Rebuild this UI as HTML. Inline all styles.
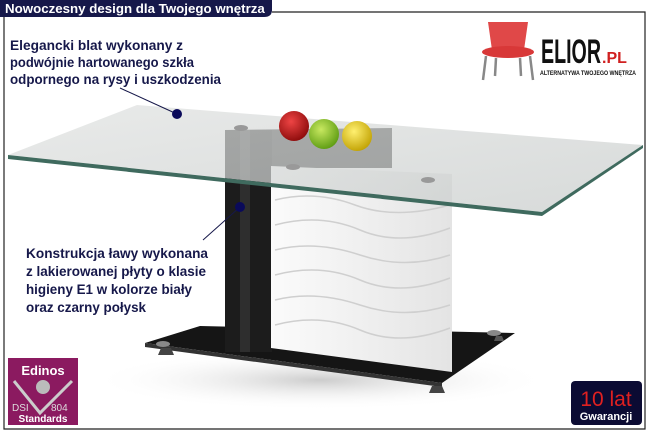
<!DOCTYPE html>
<html><head><meta charset="utf-8"><style>
html,body{margin:0;padding:0;background:#fff;width:650px;height:435px;overflow:hidden}
svg{display:block;font-family:"Liberation Sans",sans-serif}
</style></head><body>
<svg width="650" height="435" viewBox="0 0 650 435">
<defs>
<linearGradient id="gl" x1="0" y1="0" x2="1" y2="1"><stop offset="0" stop-color="#e0e2e1"/><stop offset="1" stop-color="#c8cccb"/></linearGradient>
<linearGradient id="wh" x1="0" y1="0" x2="1" y2="0"><stop offset="0" stop-color="#fbfbfb"/><stop offset="1" stop-color="#e4e4e4"/></linearGradient>
<radialGradient id="ra" cx=".4" cy=".35" r=".7"><stop offset="0" stop-color="#e44"/><stop offset="1" stop-color="#8a0a0a"/></radialGradient>
<radialGradient id="ga" cx=".4" cy=".35" r=".7"><stop offset="0" stop-color="#c8e860"/><stop offset="1" stop-color="#5a9a10"/></radialGradient>
<radialGradient id="ya" cx=".4" cy=".35" r=".7"><stop offset="0" stop-color="#fff070"/><stop offset="1" stop-color="#c0a000"/></radialGradient>
<radialGradient id="sh" cx=".5" cy=".5" r=".5"><stop offset="0" stop-color="#ccc"/><stop offset="1" stop-color="#fff" stop-opacity="0"/></radialGradient>
</defs>
<path d="M4,14 V429 H645 V12 H272" fill="none" stroke="#222" stroke-width="1.2"/>
<path d="M0,0 H272 V10 Q272,17 264,17 H0 Z" fill="#16184a"/>
<text x="5" y="13" fill="#fff" font-size="13.3" font-weight="bold">Nowoczesny design dla Twojego wnętrza</text>
<ellipse cx="320" cy="380" rx="230" ry="30" fill="url(#sh)"/>
<polygon points="145,343 200,326 515,333 442,383" fill="#151515"/>
<polygon points="145,343 442,383 442,387 145,347" fill="#333"/>
<ellipse cx="163" cy="344" rx="7" ry="3" fill="#888"/><ellipse cx="494" cy="333" rx="7" ry="3" fill="#888"/>
<path d="M161,348 h10 l3,7 h-16z" fill="#444"/><path d="M432,386 h10 l3,7 h-16z" fill="#444"/><path d="M496,336 h6 l2,5 h-10z" fill="#555"/>
<rect x="225" y="130" width="47" height="222" fill="#1c1c1c"/>
<rect x="240" y="130" width="10" height="222" fill="#3a3a3a" opacity=".6"/>
<polygon points="225,130 392,128 392,168 272,168 272,130" fill="#2a2a2a"/>
<polygon points="271,166 452,174 452,372 271,348" fill="url(#wh)"/>
<g fill="none" stroke="#cfcfcf" stroke-width="1.5">
<path d="M275,200 q40,-10 80,5 t95,0"/><path d="M275,225 q45,-12 85,5 t90,-2"/><path d="M275,250 q40,-10 85,5 t90,0"/><path d="M275,275 q45,-12 85,5 t90,-2"/><path d="M275,300 q40,-10 85,5 t90,0"/><path d="M275,325 q45,-12 85,5 t90,-2"/></g>
<polygon points="8,155 137,105 643,145 542,212" fill="url(#gl)" opacity=".72"/>
<polygon points="8,155 542,212 542,216 8,159" fill="#3f6a5e"/>
<polygon points="542,212 643,145 643,148 542,216" fill="#3f6a5e"/>
<ellipse cx="241" cy="128" rx="7" ry="3" fill="#999"/><ellipse cx="293" cy="167" rx="7" ry="3" fill="#999"/><ellipse cx="428" cy="180" rx="7" ry="3" fill="#999"/>
<circle cx="294" cy="126" r="15" fill="url(#ra)"/>
<circle cx="324" cy="134" r="15" fill="url(#ga)"/>
<circle cx="357" cy="136" r="15" fill="url(#ya)"/>
<g fill="#16184a" font-weight="bold">
<text x="10" y="50" font-size="13.5" textLength="173" lengthAdjust="spacingAndGlyphs">Elegancki blat wykonany z</text>
<text x="10" y="67" font-size="13.5" textLength="184" lengthAdjust="spacingAndGlyphs">podwójnie hartowanego szkła</text>
<text x="10" y="84" font-size="13.5" textLength="211" lengthAdjust="spacingAndGlyphs">odpornego na rysy i uszkodzenia</text>
<text x="26" y="258" font-size="14" textLength="182" lengthAdjust="spacingAndGlyphs">Konstrukcja ławy wykonana</text>
<text x="26" y="276" font-size="14" textLength="180" lengthAdjust="spacingAndGlyphs">z lakierowanej płyty o klasie</text>
<text x="26" y="294" font-size="14" textLength="166" lengthAdjust="spacingAndGlyphs">higieny E1 w kolorze biały</text>
<text x="26" y="312" font-size="14" textLength="120" lengthAdjust="spacingAndGlyphs">oraz czarny połysk</text>
</g>
<line x1="120" y1="88" x2="177" y2="114" stroke="#16184a"/><circle cx="177" cy="114" r="5" fill="#0a0a5a"/>
<line x1="240" y1="207" x2="203" y2="240" stroke="#16184a"/><circle cx="240" cy="207" r="5" fill="#0a0a5a"/>
<g>
<path d="M488,22 h40 l-4,28 h-32z" fill="#e04848"/>
<ellipse cx="508" cy="52" rx="26" ry="6" fill="#d83838"/>
<path d="M486,56 l-3,24 M530,56 l3,24 M496,58 l-1,18 M520,58 l1,18" stroke="#888" stroke-width="2.5"/>
<text x="541" y="63" font-size="34" font-weight="bold" fill="#111" textLength="60" lengthAdjust="spacingAndGlyphs">ELIOR</text>
<text x="602" y="63" font-size="16" font-weight="bold" fill="#d02020">.PL</text>
<text x="540" y="75" font-size="6.5" font-weight="bold" fill="#111" textLength="96" lengthAdjust="spacingAndGlyphs">ALTERNATYWA TWOJEGO WNĘTRZA</text>
</g>
<rect x="8" y="358" width="70" height="67" fill="#8b1a60"/>
<text x="43" y="375" font-size="13" font-weight="bold" fill="#fff" text-anchor="middle">Edinos</text>
<path d="M14,381 L40,413 L72,381" fill="none" stroke="#ccc" stroke-width="3"/>
<circle cx="43" cy="387" r="7" fill="#bbb"/>
<text x="12" y="411" font-size="10" fill="#ddd">DSI</text><text x="51" y="411" font-size="10" fill="#ddd">804</text>
<text x="43" y="422" font-size="10" font-weight="bold" fill="#fff" text-anchor="middle">Standards</text>
<rect x="571" y="381" width="71" height="44" rx="4" fill="#0b0b33"/>
<text x="606" y="406" font-size="21" fill="#e02020" text-anchor="middle">10 lat</text>
<text x="606" y="420" font-size="11" font-weight="bold" fill="#fff" text-anchor="middle">Gwarancji</text>
</svg>
</body></html>
